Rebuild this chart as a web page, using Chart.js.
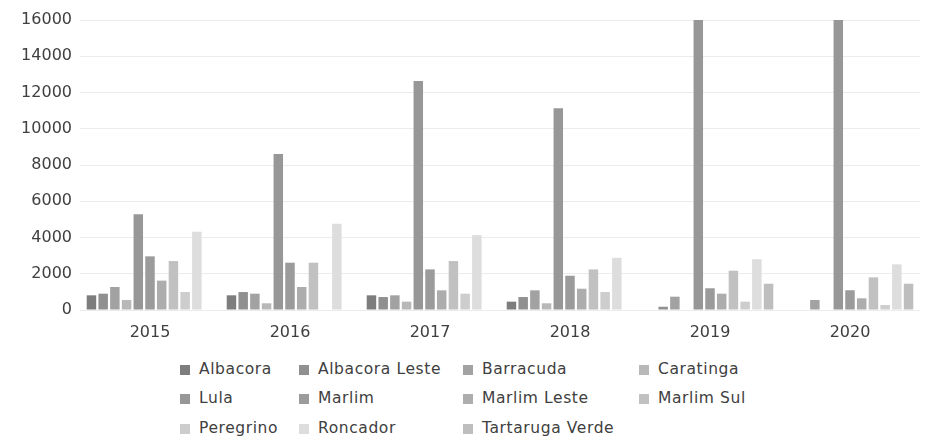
<!DOCTYPE html>
<html>
<head>
<meta charset="utf-8">
<script src="https://cdn.jsdelivr.net/npm/chart.js@4.4.0/dist/chart.umd.min.js"></script>
<style>
  body { margin: 0; background: #fff; width: 933px; height: 440px; overflow: hidden; position: relative; }
  #chart { position: absolute; left: 0; top: 0; }
  .item { position: absolute; font-family: "DejaVu Sans", sans-serif; font-size: 15.5px; color: #404040;
          letter-spacing: 0.6px; white-space: nowrap; line-height: 20px; }
  .box { display: inline-block; width: 10px; height: 10px; margin-right: 9px; vertical-align: -1px; }
</style>
</head>
<body>
<canvas id="chart" width="933" height="350"></canvas>
<div id="legend"></div>
<script>
// production by field, per year (bars above 16000 are cut by the axis)
const years = ["2015", "2016", "2017", "2018", "2019", "2020"];
const fields = ["Albacora", "Albacora Leste", "Barracuda", "Caratinga", "Lula", "Marlim",
  "Marlim Leste", "Marlim Sul", "Peregrino", "Roncador", "Tartaruga Verde"];

const albacora = [810, 810, 810, 460, 0, 0];
const albacoraLeste = [900, 990, 715, 715, 180, 0];
const barracuda = [1270, 900, 810, 1085, 735, 550];
const caratinga = [550, 370, 460, 370, 0, 0];
const lula = [5280, 8610, 12630, 11130, 17000, 17000];
const marlim = [2960, 2610, 2240, 1890, 1200, 1090];
const marlimLeste = [1620, 1270, 1085, 1175, 900, 645];
const marlimSul = [2700, 2610, 2700, 2240, 2170, 1800];
const peregrino = [990, 0, 900, 990, 460, 275];
const roncador = [4320, 4760, 4130, 2880, 2800, 2520];
const tartarugaVerde = [0, 0, 0, 0, 1450, 1450];

const yTicks = [0, 2000, 4000, 6000, 8000, 10000, 12000, 14000, 16000];

const seriesValues = [albacora, albacoraLeste, barracuda, caratinga, lula, marlim,
  marlimLeste, marlimSul, peregrino, roncador, tartarugaVerde];
const colors = ["#7d7d7d", "#909090", "#a2a2a2", "#b8b8b8", "#979797", "#9b9b9b",
  "#adadad", "#c1c1c1", "#cdcdcd", "#dddddd", "#bebebe"];

const font = { family: "DejaVu Sans", size: 16 };

const ctx = document.getElementById("chart").getContext("2d");
const myChart = new Chart(ctx, {
  type: "bar",
  data: {
    labels: years,
    datasets: fields.map((name, i) => ({
      label: name,
      data: seriesValues[i],
      backgroundColor: colors[i],
      borderWidth: 0,
      clip: 0,
      categoryPercentage: 0.92,
      barPercentage: 0.81,
    })),
  },
  options: {
    responsive: false,
    animation: false,
    layout: { padding: { top: 20, right: 13, left: 0, bottom: 0 } },
    plugins: { legend: { display: false }, tooltip: { enabled: false } },
    scales: {
      x: {
        grid: { display: false },
        border: { display: false },
        ticks: { font: font, color: "#404040", padding: 5, maxRotation: 0 },
        afterFit: (scale) => { scale.height = 40; },
      },
      y: {
        min: 0,
        max: 16000,
        afterBuildTicks: (scale) => { scale.ticks = yTicks.map((v) => ({ value: v })); },
        grid: { color: "#ececec", drawTicks: false },
        border: { display: false },
        ticks: { font: font, color: "#404040", padding: 8, callback: (v) => String(v) },
        afterFit: (scale) => { scale.width = 80; },
      },
    },
  },
});

// legend laid out in four columns like the original
const colLeft = [180, 299, 463, 639];
const rowTop = [359, 388, 418];
const legend = document.getElementById("legend");
fields.forEach((name, i) => {
  const item = document.createElement("div");
  item.className = "item";
  item.style.left = colLeft[i % 4] + "px";
  item.style.top = rowTop[Math.floor(i / 4)] + "px";
  item.innerHTML = '<span class="box" style="background:' + colors[i] + '"></span>' + name;
  legend.appendChild(item);
});
</script>
</body>
</html>
